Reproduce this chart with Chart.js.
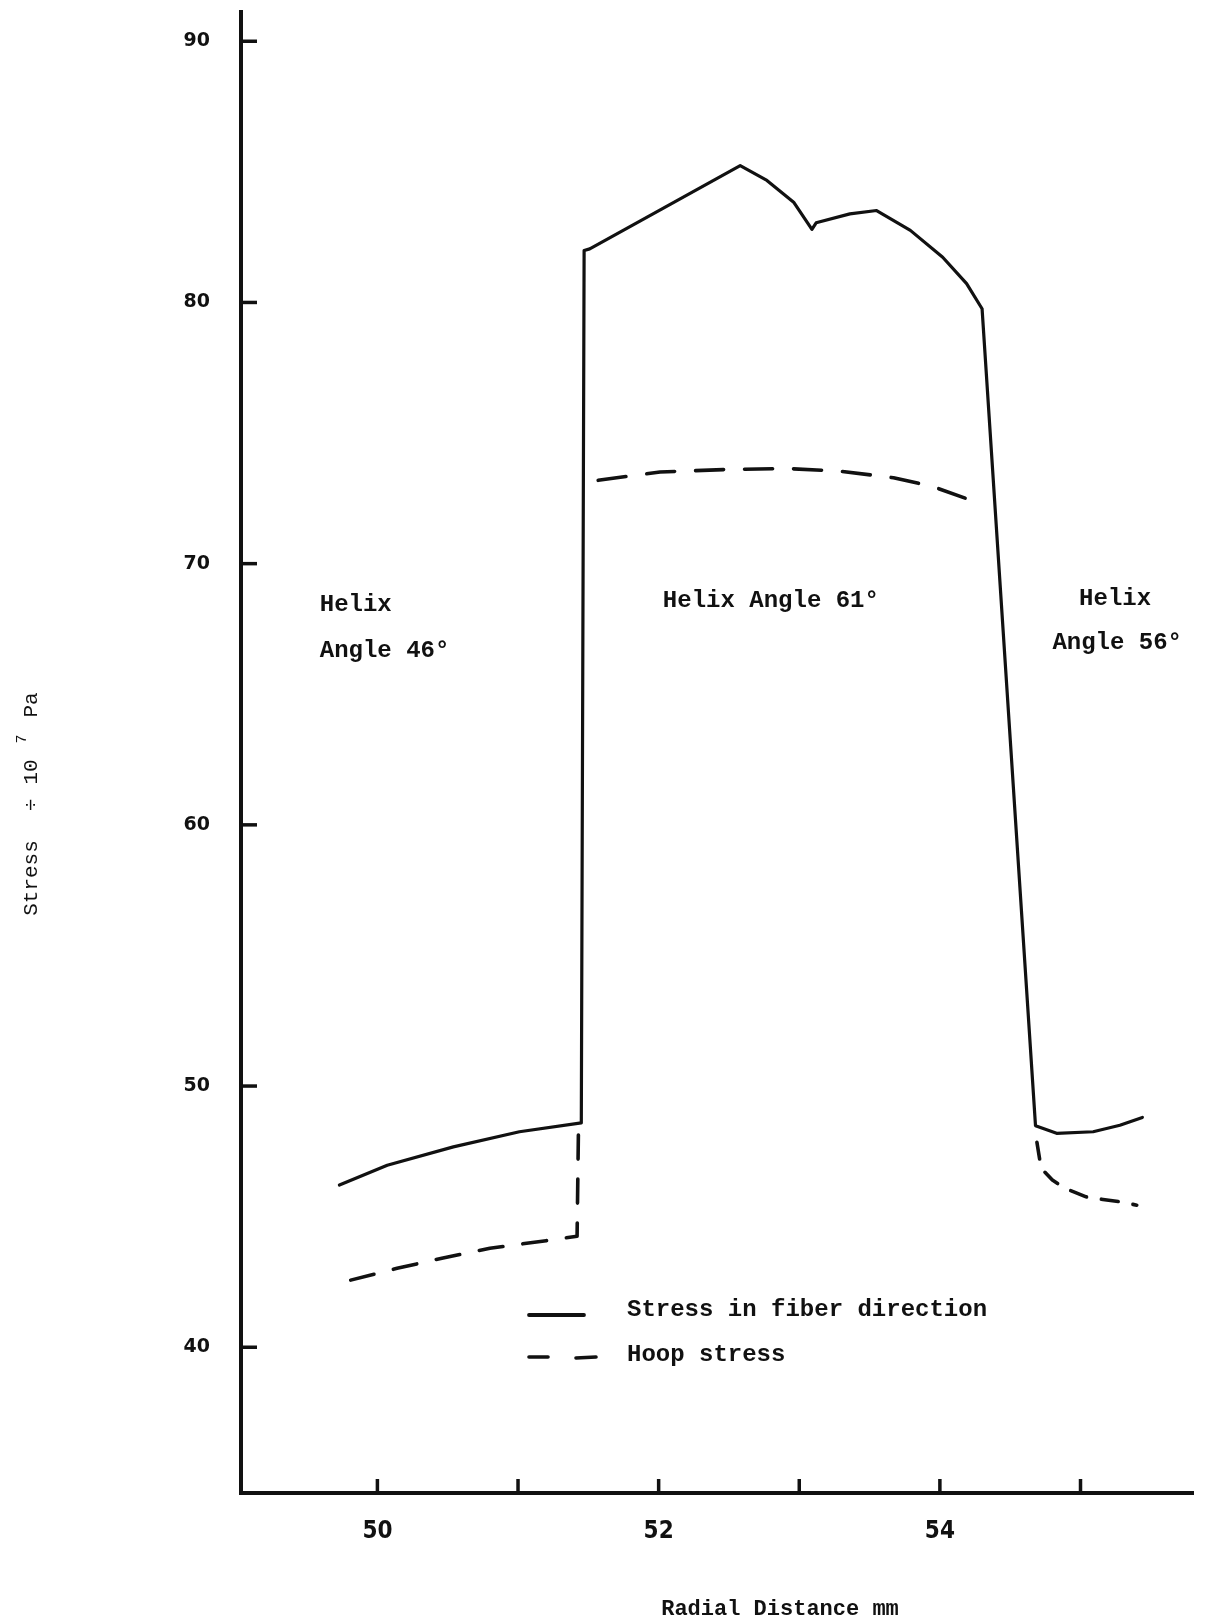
<!DOCTYPE html>
<html>
<head>
<meta charset="utf-8">
<title>Stress distribution through the wound layers</title>
<script src="https://cdn.jsdelivr.net/npm/chart.js@4.4.1/dist/chart.umd.min.js"></script>
<style>
  html, body { margin: 0; padding: 0; background: #ffffff; }
  #wrap { position: relative; width: 1211px; height: 1620px; }
</style>
</head>
<body>
<div id="wrap"><canvas id="chart"></canvas></div>
<script>
// Radial distance (mm) against stress (in units of 10^7 Pa)

// Stress in fiber direction, continuous through all three layers
const fiberX = [49.73, 50.07, 50.54, 51.01, 51.45, 51.47, 51.51, 52.05, 52.58, 52.77, 52.96, 53.09,
                53.12, 53.36, 53.55, 53.79, 54.02, 54.19, 54.30, 54.68, 54.83, 55.09, 55.28, 55.44];
const fiberY = [46.21, 46.97, 47.67, 48.25, 48.59, 81.99, 82.05, 83.66, 85.24, 84.67, 83.84, 82.80,
                83.05, 83.39, 83.52, 82.76, 81.73, 80.72, 79.76, 48.48, 48.19, 48.25, 48.50, 48.80];

// Hoop stress, one piece per layer
const hoopInnerX = [49.81, 50.14, 50.45, 50.80, 51.20, 51.42, 51.43];
const hoopInnerY = [42.57, 43.02, 43.40, 43.79, 44.08, 44.25, 48.45];

const hoopMiddleX = [51.57, 52.01, 52.46, 52.91, 53.29, 53.67, 53.95, 54.19];
const hoopMiddleY = [73.19, 73.51, 73.60, 73.64, 73.54, 73.29, 72.95, 72.49];

const hoopOuterX = [54.69, 54.72, 54.80, 54.89, 55.04, 55.16, 55.28, 55.40];
const hoopOuterY = [47.85, 46.85, 46.40, 46.08, 45.76, 45.66, 45.57, 45.44];

// Axis ticks and their labels
const xTicks = [50, 51, 52, 53, 54, 55];
const xTickLabels = ['50', '', '52', '', '54', ''];
const yTicks = [40, 50, 60, 70, 80, 90];
const yTickLabels = ['40', '50', '60', '70', '80', '90'];

// Layer captions: [text, x, y]
const layerNotes = [
  ['Helix', 49.59, 68.42],
  ['Angle 46°', 49.59, 66.64],
  ['Helix Angle 61°', 52.03, 68.56],
  ['Helix', 54.99, 68.64],
  ['Angle 56°', 54.80, 66.96]
];

const seriesNames = ['Stress in fiber direction', 'Hoop stress'];

const INK = '#111111';
const TYPE = '"Liberation Mono", "DejaVu Sans Mono", monospace';

const pts = (xs, ys) => xs.map((x, i) => ({ x: x, y: ys[i] }));

function line(label, xs, ys, width, dash) {
  return {
    label: label,
    data: pts(xs, ys),
    showLine: true,
    borderColor: INK,
    backgroundColor: INK,
    borderWidth: width,
    borderDash: dash,
    pointRadius: 0,
    pointHoverRadius: 0,
    tension: 0,
    fill: false,
    borderJoinStyle: 'round',
    borderCapStyle: 'round'
  };
}

// Keep the plot area where the axis boxes put it (no extra room for end labels)
function noEdgePadding(s) {
  s.paddingTop = 0; s.paddingBottom = 0; s.paddingLeft = 0; s.paddingRight = 0;
}

// Short tick marks pointing into the plot area
const inwardTicks = {
  id: 'inwardTicks',
  afterDraw(chart) {
    const { ctx, chartArea: a, scales: { x, y } } = chart;
    ctx.save();
    ctx.strokeStyle = INK;
    ctx.lineWidth = 3.5;
    y.ticks.forEach(t => {
      const p = y.getPixelForValue(t.value);
      ctx.beginPath(); ctx.moveTo(a.left, p); ctx.lineTo(a.left + 16, p); ctx.stroke();
    });
    x.ticks.forEach(t => {
      const p = x.getPixelForValue(t.value);
      ctx.beginPath(); ctx.moveTo(p, a.bottom); ctx.lineTo(p, a.bottom - 14); ctx.stroke();
    });
    ctx.restore();
  }
};

// Layer captions, key and axis titles
const annotations = {
  id: 'annotations',
  afterDraw(chart) {
    const { ctx, scales: { x, y } } = chart;
    ctx.save();
    ctx.fillStyle = INK;
    ctx.textBaseline = 'middle';
    ctx.textAlign = 'left';

    ctx.font = 'bold 24px ' + TYPE;
    layerNotes.forEach(([t, vx, vy]) => {
      ctx.fillText(t, x.getPixelForValue(vx), y.getPixelForValue(vy));
    });

    // key
    const solid = chart.data.datasets[0];
    const dashed = chart.data.datasets[1];
    ctx.strokeStyle = INK;
    ctx.lineCap = 'round';
    ctx.lineWidth = solid.borderWidth + 0.6;
    ctx.beginPath(); ctx.moveTo(529, 1315); ctx.lineTo(584, 1315); ctx.stroke();
    ctx.lineWidth = dashed.borderWidth;
    ctx.beginPath(); ctx.moveTo(529, 1357); ctx.lineTo(548, 1357); ctx.stroke();
    ctx.beginPath(); ctx.moveTo(576, 1358); ctx.lineTo(596, 1357); ctx.stroke();
    ctx.fillText(seriesNames[0], 627, 1310);
    ctx.fillText(seriesNames[1], 627, 1355);

    // x title
    ctx.textAlign = 'center';
    ctx.font = 'bold 22px ' + TYPE;
    ctx.fillText('Radial Distance mm', 780, 1609);

    // y title, rotated
    ctx.translate(31, 0);
    ctx.rotate(-Math.PI / 2);
    ctx.font = '21px ' + TYPE;
    ctx.fillText('Stress', -878, 0);
    ctx.fillText('÷', -805, 0);
    ctx.fillText('10', -772, 0);
    ctx.font = '15px ' + TYPE;
    ctx.fillText('7', -739, -9);
    ctx.font = '21px ' + TYPE;
    ctx.fillText('Pa', -705, 0);
    ctx.restore();
  }
};

new Chart(document.getElementById('chart'), {
  type: 'scatter',
  data: {
    datasets: [
      line(seriesNames[0], fiberX, fiberY, 3.2, []),
      line(seriesNames[1], hoopInnerX, hoopInnerY, 3.6, [24, 20]),
      line(seriesNames[1], hoopMiddleX, hoopMiddleY, 3.6, [28, 21]),
      line(seriesNames[1], hoopOuterX, hoopOuterY, 3.6, [17, 15])
    ]
  },
  options: {
    responsive: true,
    maintainAspectRatio: false,
    animation: false,
    events: [],
    layout: { padding: { top: 12, right: 18, bottom: 0, left: 0 } },
    plugins: { legend: { display: false }, tooltip: { enabled: false } },
    scales: {
      x: {
        type: 'linear',
        min: 49.03,
        max: 55.80,
        afterBuildTicks: s => { s.ticks = xTicks.map(v => ({ value: v })); },
        afterFit: s => { s.height = 127; noEdgePadding(s); },
        grid: { display: false, drawTicks: false },
        border: { display: true, color: INK, width: 4 },
        ticks: {
          padding: 24,
          color: INK,
          font: { family: '"Liberation Sans Narrow", "DejaVu Sans Condensed", sans-serif', weight: 'bold', size: 24 },
          maxRotation: 0,
          autoSkip: false,
          callback: (v, i) => xTickLabels[i]
        }
      },
      y: {
        type: 'linear',
        min: 34.42,
        max: 91.12,
        afterBuildTicks: s => { s.ticks = yTicks.map(v => ({ value: v })); },
        afterFit: s => { s.width = 241; noEdgePadding(s); },
        grid: { display: false, drawTicks: false },
        border: { display: true, color: INK, width: 4 },
        ticks: {
          padding: 31,
          color: INK,
          font: { family: '"DejaVu Sans", sans-serif', weight: 'bold', size: 19 },
          autoSkip: false,
          callback: (v, i) => yTickLabels[i]
        }
      }
    }
  },
  plugins: [inwardTicks, annotations]
});
</script>
</body>
</html>
